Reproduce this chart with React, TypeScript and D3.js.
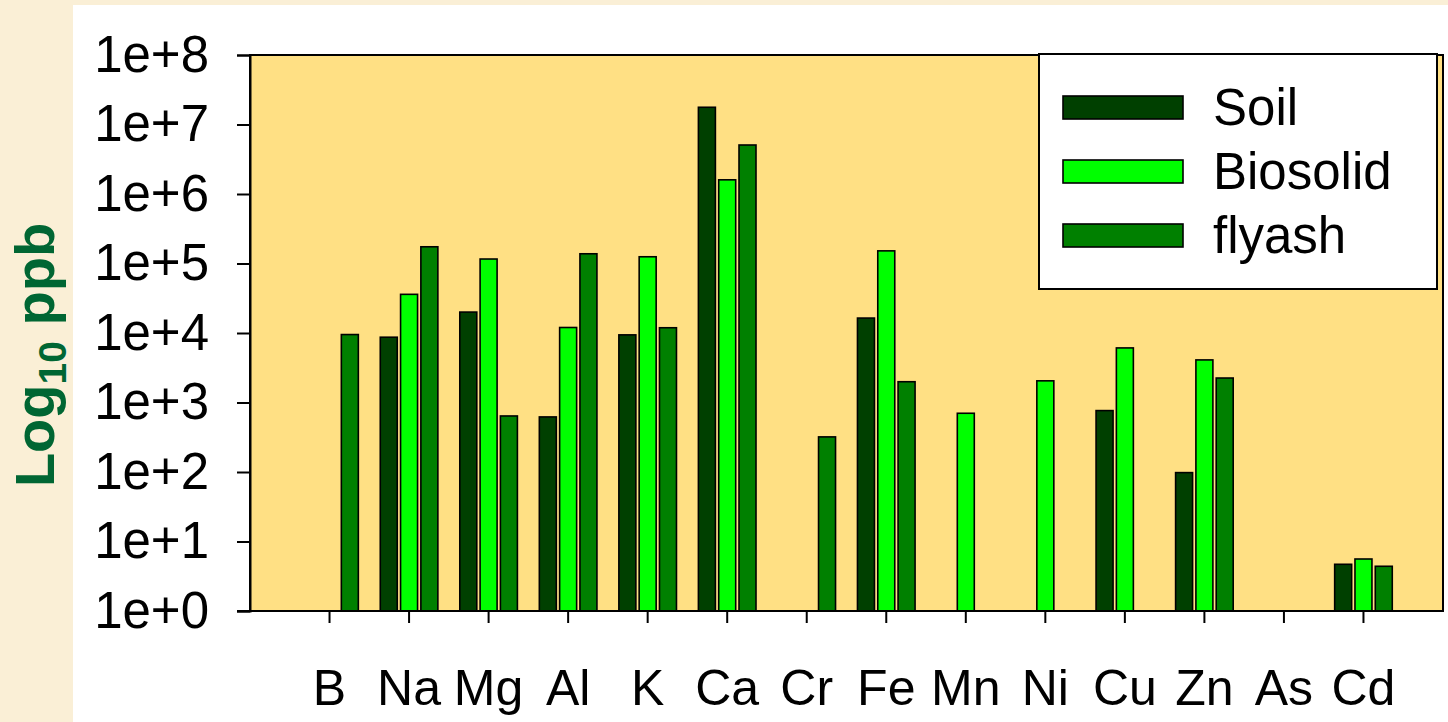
import { useEffect, useRef } from 'react';
import * as d3 from 'd3';

// Element concentrations (ppb); null = no bar
const elements = ['B', 'Na', 'Mg', 'Al', 'K', 'Ca', 'Cr', 'Fe', 'Mn', 'Ni', 'Cu', 'Zn', 'As', 'Cd'];
const soil = [null, 8700, 20000, 620, 9400, 1.77e7, null, 16400, null, null, 765, 98, null, 4.7];
const biosolid = [null, 36000, 116000, 12000, 125000, 1.6e6, null, 152000, 700, 2050, 6100, 4100, null, 5.6];
const flyash = [9500, 174000, 640, 138000, 11900, 5.07e6, 320, 1990, null, null, null, 2250, null, 4.4];

const seriesNames = ['Soil', 'Biosolid', 'flyash'];
const seriesColors = ['#004000', '#00FF00', '#008000'];
const yTickValues = [1, 10, 100, 1e3, 1e4, 1e5, 1e6, 1e7, 1e8];
const yTickLabels = ['1e+0', '1e+1', '1e+2', '1e+3', '1e+4', '1e+5', '1e+6', '1e+7', '1e+8'];

const W = 1448;
const H = 722;
const FONT = 'Arial, "Liberation Sans", Helvetica, sans-serif';

export default function App() {
  const svgRef = useRef<SVGSVGElement>(null);

  useEffect(() => {
    if (!svgRef.current) return;
    const svg = d3.select(svgRef.current);
    svg.selectAll('*').remove();

    const plot = { left: 250, right: 1443, top: 55, bottom: 611 };

    // page background + white panel
    svg.append('rect').attr('width', W).attr('height', H).attr('fill', '#FAEFD6');
    svg.append('rect').attr('x', 73).attr('y', 5).attr('width', W - 73).attr('height', H - 5).attr('fill', '#fff');

    const x = d3.scaleBand<string>()
      .domain(elements)
      .range([plot.left, plot.right])
      .paddingInner(0)
      .paddingOuter(0.5);

    const xSub = d3.scaleBand<string>()
      .domain(seriesNames)
      .range([-28.8, 28.8])
      .paddingInner(0.163);

    const y = d3.scaleLog()
      .domain([1, 1e8])
      .range([plot.bottom, plot.top]);

    // plot background
    svg.append('rect')
      .attr('x', plot.left).attr('y', plot.top)
      .attr('width', plot.right - plot.left).attr('height', plot.bottom - plot.top)
      .attr('fill', '#FFE084');

    // bars
    const table = [soil, biosolid, flyash];
    table.forEach((vals, si) => {
      const data = elements
        .map((el, i) => ({ el, v: vals[i] }))
        .filter(d => d.v != null) as { el: string; v: number }[];
      svg.append('g')
        .selectAll('rect')
        .data(data)
        .join('rect')
        .attr('x', d => (x(d.el) || 0) + x.bandwidth() / 2 + (xSub(seriesNames[si]) || 0))
        .attr('y', d => y(d.v))
        .attr('width', xSub.bandwidth())
        .attr('height', d => plot.bottom - y(d.v))
        .attr('fill', seriesColors[si])
        .attr('stroke', '#000')
        .attr('stroke-width', 1.6);
    });

    // frame
    svg.append('rect')
      .attr('x', plot.left).attr('y', plot.top)
      .attr('width', plot.right - plot.left).attr('height', plot.bottom - plot.top)
      .attr('fill', 'none').attr('stroke', '#000').attr('stroke-width', 2);

    // y axis
    const yAxis = svg.append('g')
      .attr('transform', `translate(${plot.left},0)`)
      .call(d3.axisLeft(y).tickValues(yTickValues).tickSize(13).tickPadding(28)
        .tickFormat((_, i) => yTickLabels[i]));
    yAxis.select('.domain').attr('stroke-width', 2);
    yAxis.selectAll('.tick line').attr('stroke-width', 2);
    yAxis.selectAll('text').attr('font-size', 51).attr('font-family', FONT).attr('fill', '#000');

    // x axis
    const xAxis = svg.append('g')
      .attr('transform', `translate(0,${plot.bottom})`)
      .call(d3.axisBottom(x).tickSize(12).tickSizeOuter(0).tickPadding(46));
    xAxis.select('.domain').attr('d', `M${plot.left - 13},0H${plot.right}`).attr('stroke-width', 2);
    xAxis.selectAll('.tick line').attr('stroke-width', 2);
    xAxis.selectAll('text').attr('font-size', 50).attr('font-family', FONT).attr('fill', '#000');

    // y axis title
    const yt = svg.append('text')
      .attr('transform', 'translate(54,355) rotate(-90)')
      .attr('text-anchor', 'middle')
      .attr('font-family', FONT)
      .attr('font-weight', 'bold')
      .attr('font-size', 56)
      .attr('fill', '#006633');
    yt.append('tspan').text('Log');
    yt.append('tspan').attr('font-size', 39).attr('dy', 12).text('10');
    yt.append('tspan').attr('dy', -12).text('\u00a0ppb');

    // legend
    const lg = svg.append('g');
    lg.append('rect')
      .attr('x', 1039).attr('y', 54).attr('width', 398).attr('height', 235)
      .attr('fill', '#fff').attr('stroke', '#000').attr('stroke-width', 2);
    seriesNames.forEach((name, i) => {
      const cy = 107.5 + i * 64;
      lg.append('rect')
        .attr('x', 1063).attr('y', cy - 11.5).attr('width', 120).attr('height', 23)
        .attr('fill', seriesColors[i]).attr('stroke', '#000').attr('stroke-width', 1.6);
      lg.append('text')
        .attr('x', 1213).attr('y', cy).attr('dy', '0.35em')
        .attr('font-family', FONT).attr('font-size', 51).attr('fill', '#000')
        .text(name);
    });
  }, []);

  return (
    <svg
      ref={svgRef}
      width={W}
      height={H}
      style={{ position: 'absolute', left: 0, top: 0, display: 'block' }}
    />
  );
}
